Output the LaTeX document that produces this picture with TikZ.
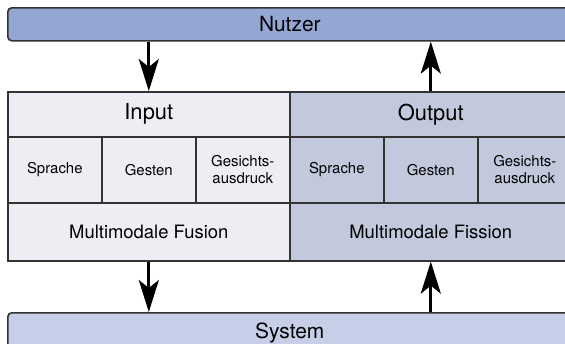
\documentclass[tikz,border=0pt]{standalone}
\usepackage{fontspec}
\setmainfont{TeX Gyre Heros}
\usetikzlibrary{arrows.meta}
\definecolor{nutzerblue}{HTML}{94A6D2}
\definecolor{systemblue}{HTML}{C6CEE8}
\definecolor{inputgray}{HTML}{EDEEF4}
\definecolor{outputgray}{HTML}{C3C9DD}
\definecolor{linegray}{HTML}{333333}
\newcommand{\cw}{94bp}
\newcommand{\hw}{282bp}

\begin{document}
\begin{tikzpicture}[x=1bp, y=-1bp,
    cell/.style={draw=linegray, line width=1.6bp, rectangle, anchor=north west, minimum width=\cw, minimum height=66bp, inner sep=0pt, font=\fontsize{15}{17.5}\selectfont, align=center},
    head/.style={cell, minimum width=\hw, minimum height=45bp, font=\fontsize{22}{24}\selectfont},
    fus/.style={cell, minimum width=\hw, minimum height=58bp, font=\fontsize{18.5}{21}\selectfont},
    bar/.style={draw=linegray, line width=1.6bp, rectangle, rounded corners=4bp, anchor=north west, minimum width=564bp, inner sep=0pt, font=\fontsize{21}{24}\selectfont},
    arr/.style={line width=3bp, draw=black, -{Stealth[length=32bp, width=20bp, inset=8bp]}}]
    \useasboundingbox (0,0) rectangle (565,343);

    % Nutzer
    \node[bar, fill=nutzerblue, minimum height=33bp] (nutzer) at (7,7) {Nutzer};

    % Input side
    \node[head, fill=inputgray] (in-head) at (7,91) {Input};
    \node[cell, fill=inputgray] (in-1) at (7,136) {Sprache};
    \node[cell, fill=inputgray] (in-2) at (101,136) {Gesten};
    \node[cell, fill=inputgray] (in-3) at (195,136) {Gesichts-\\ausdruck};
    \node[fus, fill=inputgray] (in-fus) at (7,202) {Multimodale Fusion};

    % Output side
    \node[head, fill=outputgray] (out-head) at (289,91) {Output};
    \node[cell, fill=outputgray] (out-1) at (289,136) {Sprache};
    \node[cell, fill=outputgray] (out-2) at (383,136) {Gesten};
    \node[cell, fill=outputgray] (out-3) at (477,136) {Gesichts-\\ausdruck};
    \node[fus, fill=outputgray] (out-fus) at (289,202) {Multimodale Fission};

    % System
    \node[bar, fill=systemblue, minimum height=40bp] (system) at (7,312) {System};

    % Arrows
    \draw[arr] (nutzer.south -| in-head.north) -- (in-head.north);
    \draw[arr] (out-head.north) -- (out-head.north |- nutzer.south);
    \draw[arr] (in-fus.south) -- (system.north -| in-fus.south);
    \draw[arr] (system.north -| out-fus.south) -- (out-fus.south);

\end{tikzpicture}
\end{document}
